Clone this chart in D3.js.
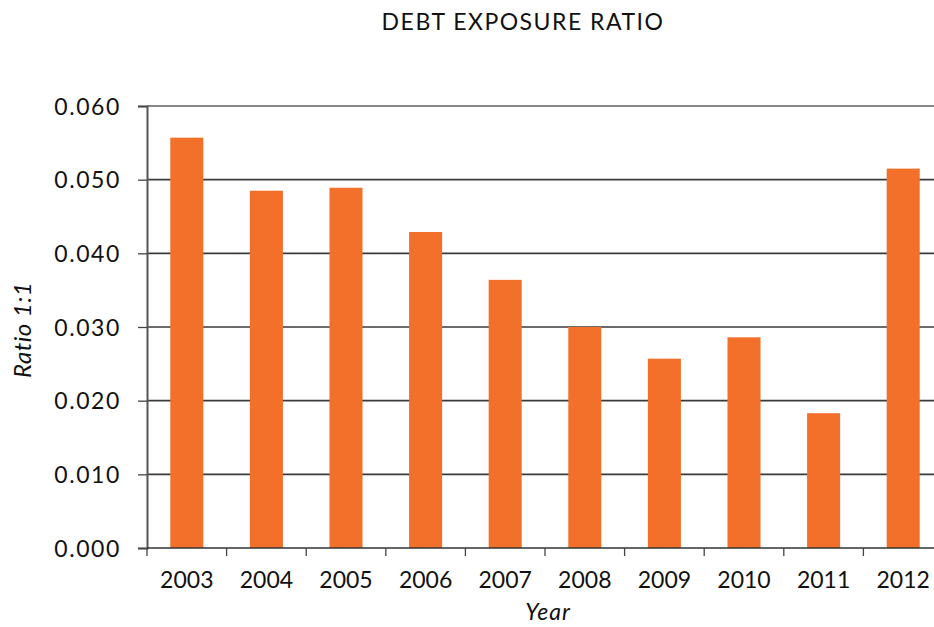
<!DOCTYPE html>
<html><head><meta charset="utf-8">
<script src="https://cdn.jsdelivr.net/npm/d3@7"></script>
<style>body{margin:0;background:#fff}svg{display:block}text{font-family:Lato,"Open Sans",sans-serif;fill:#111}</style>
</head><body><svg id="c" width="934" height="627"></svg>
<script>
const years = ["2003","2004","2005","2006","2007","2008","2009","2010","2011","2012"];
const ratios = [0.0557,0.0485,0.0489,0.0429,0.0364,0.0300,0.0257,0.0286,0.0183,0.0515];
const yTicks = [0,0.01,0.02,0.03,0.04,0.05,0.06];

const svg = d3.select("#c");
const x = d3.scaleBand().domain(years).range([147,943]).padding(0);
const y = d3.scaleLinear().domain([0,0.06]).range([548,106]);

// gridlines
svg.append("g").selectAll("line").data(yTicks.filter(d=>d>0)).join("line")
  .attr("x1",147).attr("x2",934).attr("y1",d=>y(d)).attr("y2",d=>y(d))
  .attr("stroke",d=>d===0.06?"#858585":"#3a3a3a").attr("stroke-width",d=>d===0.06?2:1.6);

// bars
const bw = x.bandwidth()*0.415;
svg.append("g").selectAll("rect").data(years).join("rect")
  .attr("x",(d)=>x(d)+(x.bandwidth()-bw)/2).attr("width",bw)
  .attr("y",(d,i)=>y(ratios[i])).attr("height",(d,i)=>548-y(ratios[i]))
  .attr("fill","#F3702B");

// y axis
const ya = svg.append("g").attr("transform","translate(147,0)")
  .call(d3.axisLeft(y).tickValues(yTicks).tickFormat(d3.format(".3f")).tickSize(9).tickPadding(17));
ya.select(".domain").attr("stroke","#555").attr("stroke-width",2);
ya.selectAll(".tick line").attr("stroke","#444").attr("stroke-width",1.3);
ya.selectAll(".tick text").attr("font-size",23).attr("letter-spacing","1.6px").attr("font-family","Lato,sans-serif").attr("fill","#111").attr("dy","0.36em");

// x axis
const xa = svg.append("g").attr("transform","translate(0,548)")
  .call(d3.axisBottom(x).tickSize(0).tickPadding(18));
xa.select(".domain").attr("stroke","#333").attr("stroke-width",1.6).attr("d","M147,0H934");
xa.selectAll(".tick text").attr("font-size",23).attr("font-family","Lato,sans-serif").attr("fill","#111").attr("dy","0.95em");
svg.append("g").selectAll("line").data(years).join("line")
  .attr("x1",d=>x(d)).attr("x2",d=>x(d)).attr("y1",548).attr("y2",556)
  .attr("stroke","#444").attr("stroke-width",1.3);

// title
svg.append("text").attr("x",523).attr("y",29.5).attr("text-anchor","middle")
  .attr("font-size",23).attr("letter-spacing","1.5px").attr("fill","#222").text("DEBT EXPOSURE RATIO");
svg.append("text").attr("x",548).attr("y",620).attr("text-anchor","middle")
  .attr("font-size",23).attr("font-style","italic").attr("letter-spacing","1px").text("Year");
svg.append("text").attr("transform","translate(31,330) rotate(-90)").attr("text-anchor","middle")
  .attr("font-size",24).attr("font-style","italic").attr("letter-spacing","0.5px").text("Ratio  1:1");
</script></body></html>
